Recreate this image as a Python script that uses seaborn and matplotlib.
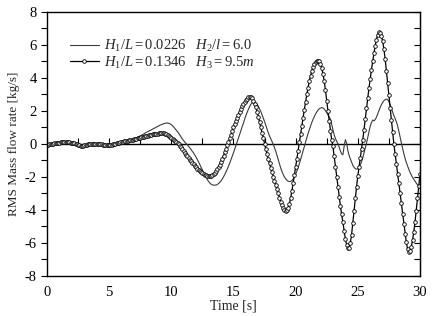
import numpy as np
import matplotlib
matplotlib.use('Agg')
import matplotlib.pyplot as plt
import seaborn as sns
from matplotlib.ticker import MultipleLocator

# sampling grid of the record [s]
time_s = np.round(np.arange(0, 30.05, 0.1), 1)

# H1/L=0.1346, H3=9.5m  (line with open circles)
flow_b = [
    -0.05, -0.04, -0.02, 0.00, 0.01, 0.02, 0.03, 0.05, 0.06, 0.07,
    0.08, 0.09, 0.10, 0.10, 0.11, 0.11, 0.10, 0.10, 0.09, 0.08,
    0.07, 0.05, 0.03, 0.01, -0.02, -0.05, -0.08, -0.10, -0.12, -0.11,
    -0.09, -0.07, -0.05, -0.03, -0.01, 0.00, 0.01, 0.02, 0.02, 0.02,
    0.02, 0.01, 0.00, -0.01, -0.02, -0.04, -0.05, -0.06, -0.07, -0.08,
    -0.08, -0.07, -0.05, -0.03, -0.01, 0.02, 0.04, 0.06, 0.08, 0.10,
    0.12, 0.13, 0.15, 0.16, 0.18, 0.20, 0.21, 0.23, 0.24, 0.25,
    0.27, 0.29, 0.31, 0.33, 0.35, 0.38, 0.40, 0.42, 0.44, 0.46,
    0.48, 0.50, 0.52, 0.54, 0.56, 0.58, 0.60, 0.61, 0.62, 0.63,
    0.64, 0.65, 0.66, 0.66, 0.65, 0.63, 0.59, 0.54, 0.49, 0.43,
    0.37, 0.31, 0.25, 0.19, 0.13, 0.07, 0.00, -0.10, -0.21, -0.32,
    -0.43, -0.54, -0.65, -0.76, -0.86, -0.95, -1.04, -1.13, -1.22, -1.31,
    -1.40, -1.49, -1.57, -1.64, -1.71, -1.77, -1.82, -1.87, -1.91, -1.94,
    -1.96, -1.96, -1.94, -1.90, -1.84, -1.76, -1.66, -1.54, -1.40, -1.25,
    -1.08, -0.90, -0.71, -0.51, -0.30, -0.09, 0.12, 0.34, 0.56, 0.78,
    1.00, 1.20, 1.40, 1.60, 1.78, 1.96, 2.13, 2.28, 2.42, 2.55,
    2.66, 2.75, 2.82, 2.85, 2.83, 2.76, 2.62, 2.44, 2.22, 1.95,
    1.65, 1.33, 1.00, 0.67, 0.33, 0.00, -0.32, -0.62, -0.91, -1.18,
    -1.45, -1.72, -1.98, -2.24, -2.50, -2.75, -3.00, -3.25, -3.50, -3.72,
    -3.90, -4.02, -4.06, -4.02, -3.88, -3.62, -3.27, -2.85, -2.38, -1.88,
    -1.40, -0.90, -0.40, 0.10, 0.60, 1.10, 1.60, 2.08, 2.55, 3.00,
    3.42, 3.80, 4.14, 4.43, 4.67, 4.85, 4.97, 5.04, 5.05, 5.00,
    4.85, 4.60, 4.25, 3.80, 3.25, 2.60, 2.00, 1.40, 0.80, 0.25,
    -0.15, -0.75, -1.38, -2.00, -2.60, -3.20, -3.75, -4.25, -4.75, -5.25,
    -5.75, -6.10, -6.30, -6.28, -6.00, -5.50, -4.80, -4.05, -3.30, -2.60,
    -1.95, -1.40, -0.85, -0.30, 0.25, 0.85, 1.50, 2.15, 2.80, 3.40,
    3.95, 4.50, 5.00, 5.50, 5.95, 6.33, 6.63, 6.80, 6.72, 6.52,
    6.25, 5.75, 5.15, 4.45, 3.70, 2.95, 2.20, 1.45, 0.70, 0.00,
    -0.60, -1.20, -1.80, -2.35, -2.95, -3.60, -4.25, -4.85, -5.45, -5.95,
    -6.35, -6.55, -6.50, -6.25, -5.85, -5.35, -4.75, -4.05, -3.30, -2.55,
    -1.85,
]

# H1/L=0.0226, H2/l=6.0  (thin line)
flow_a = [
    -0.05, -0.04, -0.02, 0.00, 0.01, 0.02, 0.03, 0.05, 0.06, 0.07,
    0.08, 0.09, 0.10, 0.10, 0.11, 0.11, 0.10, 0.10, 0.09, 0.08,
    0.07, 0.05, 0.03, 0.01, -0.02, -0.05, -0.08, -0.10, -0.12, -0.11,
    -0.09, -0.07, -0.05, -0.03, -0.01, 0.00, 0.01, 0.02, 0.02, 0.02,
    0.02, 0.01, 0.00, -0.01, -0.02, -0.04, -0.05, -0.06, -0.07, -0.08,
    -0.08, -0.07, -0.05, -0.03, -0.01, 0.02, 0.04, 0.06, 0.08, 0.10,
    0.12, 0.13, 0.15, 0.16, 0.18, 0.20, 0.21, 0.23, 0.24, 0.26,
    0.29, 0.33, 0.37, 0.41, 0.45, 0.49, 0.53, 0.57, 0.61, 0.66,
    0.70, 0.74, 0.78, 0.82, 0.86, 0.90, 0.94, 0.98, 1.02, 1.06,
    1.10, 1.14, 1.17, 1.20, 1.23, 1.25, 1.27, 1.27, 1.25, 1.22,
    1.17, 1.10, 1.02, 0.93, 0.84, 0.74, 0.64, 0.52, 0.40, 0.29,
    0.19, 0.10, 0.02, -0.06, -0.15, -0.25, -0.35, -0.45, -0.56, -0.68,
    -0.81, -0.95, -1.10, -1.26, -1.42, -1.58, -1.74, -1.90, -2.04, -2.17,
    -2.28, -2.37, -2.44, -2.48, -2.50, -2.50, -2.49, -2.46, -2.40, -2.33,
    -2.24, -2.13, -2.00, -1.86, -1.70, -1.53, -1.35, -1.16, -0.96, -0.75,
    -0.54, -0.32, -0.10, 0.12, 0.35, 0.58, 0.82, 1.05, 1.25, 1.50,
    1.72, 1.92, 2.10, 2.27, 2.40, 2.50, 2.55, 2.55, 2.50, 2.40,
    2.28, 2.13, 1.96, 1.77, 1.57, 1.36, 1.14, 0.91, 0.68, 0.48,
    0.32, 0.15, -0.03, -0.22, -0.44, -0.70, -0.97, -1.22, -1.46, -1.67,
    -1.85, -2.00, -2.12, -2.20, -2.26, -2.28, -2.27, -2.22, -2.13, -2.00,
    -1.84, -1.65, -1.43, -1.20, -0.95, -0.69, -0.42, -0.15, 0.12, 0.38,
    0.63, 0.87, 1.09, 1.30, 1.49, 1.66, 1.81, 1.94, 2.05, 2.13,
    2.18, 2.20, 2.18, 2.12, 2.02, 1.90, 1.76, 1.62, 1.50, 1.18,
    0.86, 0.55, 0.33, 0.16, 0.02, -0.20, -0.42, -0.60, -0.66, -0.15,
    0.26, 0.05, -0.40, -0.70, -0.90, -1.10, -1.30, -1.42, -1.50, -1.53,
    -1.50, -1.42, -1.28, -1.08, -0.84, -0.55, -0.25, 0.05, 0.40, 0.75,
    1.08, 1.30, 1.45, 1.40, 1.48, 1.62, 1.82, 2.03, 2.22, 2.38,
    2.52, 2.62, 2.69, 2.72, 2.68, 2.56, 2.38, 2.16, 1.92, 1.72,
    1.55, 1.35, 1.10, 0.78, 0.42, 0.08, -0.25, -0.58, -0.87, -1.12,
    -1.33, -1.53, -1.72, -1.88, -2.02, -2.14, -2.26, -2.37, -2.47, -2.58,
    -2.68,
]

label_a = r'$\mathit{H_1/L{=}0.0226}\quad\mathit{H_2/l{=}6.0}$'
label_b = r'$\mathit{H_1/L{=}0.1346}\quad\mathit{H_3{=}9.5m}$'

sns.set_style('ticks')
plt.rcParams['font.family'] = ['Liberation Serif', 'DejaVu Serif']
plt.rcParams['mathtext.fontset'] = 'custom'
plt.rcParams['mathtext.rm'] = 'Liberation Serif'
plt.rcParams['mathtext.it'] = 'Liberation Serif:italic'
plt.rcParams['axes.unicode_minus'] = False

fig = plt.figure(figsize=(4.43, 3.16), dpi=100)
ax = fig.add_axes([0.106, 0.127, 0.842, 0.835])

sns.lineplot(x=time_s, y=flow_a, ax=ax, color='#3a3a3a', lw=0.8, label=label_a)
sns.lineplot(x=time_s, y=flow_b, ax=ax, color='black', lw=0.9,
             marker='o', markersize=2.6, markerfacecolor='white',
             markeredgecolor='black', markeredgewidth=0.6, label=label_b)

ax.set_xlim(0, 30)
ax.set_ylim(-8, 8)
ax.set_xticks(np.arange(0, 31, 5))
ax.set_yticks(np.arange(-8, 9, 2))
ax.yaxis.set_minor_locator(MultipleLocator(1))
ax.tick_params(axis='x', length=0, pad=7, labelsize=10.5, colors='black')
ax.tick_params(axis='y', which='both', direction='out', length=4,
               width=0.8, labelsize=10.5, colors='black')
for s in ax.spines.values():
    s.set_color('black')
    s.set_linewidth(1.0)

# zero line with its own small ticks
zero_ax = ax.secondary_xaxis(0.5)
zero_ax.set_xticks(np.arange(0, 30.1, 2.5))
zero_ax.tick_params(direction='out', length=4, width=0.8,
                    labeltop=False, labelbottom=False, colors='black')
for s in zero_ax.spines.values():
    s.set_linewidth(1.0)
    s.set_color('black')

# inner ticks on the right side
right_ax = ax.secondary_yaxis('right')
right_ax.set_yticks(np.arange(-8, 9, 1))
right_ax.tick_params(direction='in', length=4, width=0.8,
                     labelright=False, colors='black')

ax.set_xlabel('Time [s]', fontsize=10, labelpad=1)
ax.set_ylabel('RMS Mass flow rate [kg/s]', fontsize=9.5, labelpad=3)

ax.legend(loc='upper left', bbox_to_anchor=(0.045, 0.925), frameon=False,
          fontsize=10.5, handlelength=2.0, handletextpad=0.35,
          labelspacing=0.05, borderaxespad=0)

fig.savefig('out.png', dpi=100)
